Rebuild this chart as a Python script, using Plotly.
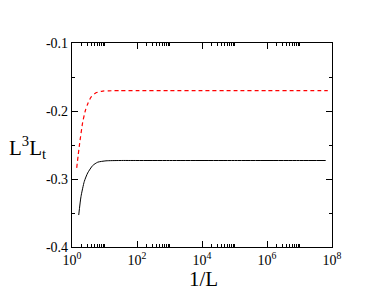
import plotly.graph_objects as go

# data
x_red = [1.395, 1.677, 2.13, 2.57, 3.04, 3.84, 5.48, 8.8, 13.7, 30, 100, 1e3, 1e4, 1e5, 1e6, 1e7, 7.4e7]
y_red = [-0.2837, -0.2516, -0.2168, -0.1996, -0.1896, -0.1796, -0.1733, -0.1707, -0.1703, -0.1700, -0.1700, -0.1700, -0.1700, -0.1700, -0.1700, -0.1700, -0.1700]

x_blk = [1.61, 1.89, 2.39, 3.04, 4.33, 6.18, 11.1, 30, 100, 1e3, 1e4, 1e5, 1e6, 1e7, 6.4e7]
y_blk = [-0.353, -0.3259, -0.3036, -0.2911, -0.2802, -0.2753, -0.2733, -0.2728, -0.2728, -0.2728, -0.2728, -0.2728, -0.2728, -0.2728, -0.2728]

x_tickvals = [1, 1e2, 1e4, 1e6, 1e8]
x_ticktext = ["10<sup>0</sup>", "10<sup>2</sup>", "10<sup>4</sup>", "10<sup>6</sup>", "10<sup>8</sup>"]
x_minor = [m * 10 ** e for e in (0, 2, 4, 6) for m in range(2, 11)]
y_tickvals = [-0.4, -0.3, -0.2, -0.1]
y_ticktext = ["-0.4", "-0.3", "-0.2", "-0.1"]

font = "Liberation Serif"

fig = go.Figure()
fig.add_trace(go.Scatter(x=x_blk, y=y_blk, mode="lines", line=dict(color="#000000", width=1, shape="spline", smoothing=0.6), showlegend=False))
fig.add_trace(go.Scatter(x=x_red, y=y_red, mode="lines", line=dict(color="#ff0000", width=1.2, dash="4px,3px", shape="spline", smoothing=0.6), showlegend=False))

axis_common = dict(showline=True, linecolor="#000000", linewidth=1.3, mirror="allticks",
                   ticks="inside", ticklen=6, tickwidth=1, tickcolor="#000000",
                   showgrid=False, zeroline=False, automargin=False,
                   tickfont=dict(family=font, size=14, color="#000000"))

fig.update_xaxes(type="log", range=[0, 8], tickmode="array", tickvals=x_tickvals, ticktext=x_ticktext,
                 minor=dict(tickmode="array", tickvals=x_minor, ticks="inside", ticklen=3, tickcolor="#000000", showgrid=False),
                 **axis_common)
fig.update_yaxes(range=[-0.4, -0.1], tickmode="array", tickvals=y_tickvals, ticktext=y_ticktext,
                 minor=dict(dtick=0.05, tick0=0, ticks="inside", ticklen=3, tickcolor="#000000", showgrid=False),
                 **axis_common)

fig.add_annotation(text="1/L", xref="paper", yref="paper", x=0.505, y=-0.155, showarrow=False,
                   xanchor="center", yanchor="middle", font=dict(family=font, size=21, color="#000000"))
fig.add_annotation(text="L<sup>3</sup>L<sub>t</sub>", xref="paper", yref="paper", x=-0.17, y=0.49, showarrow=False,
                   xanchor="center", yanchor="middle", font=dict(family=font, size=21, color="#000000"))

fig.update_layout(width=376, height=291, margin=dict(l=72, r=44, t=43, b=44),
                  plot_bgcolor="white", paper_bgcolor="white")
fig.write_html("out.html", config={"displayModeBar": False},
               post_script="document.body.style.margin='0px';document.body.style.overflow='hidden';")
